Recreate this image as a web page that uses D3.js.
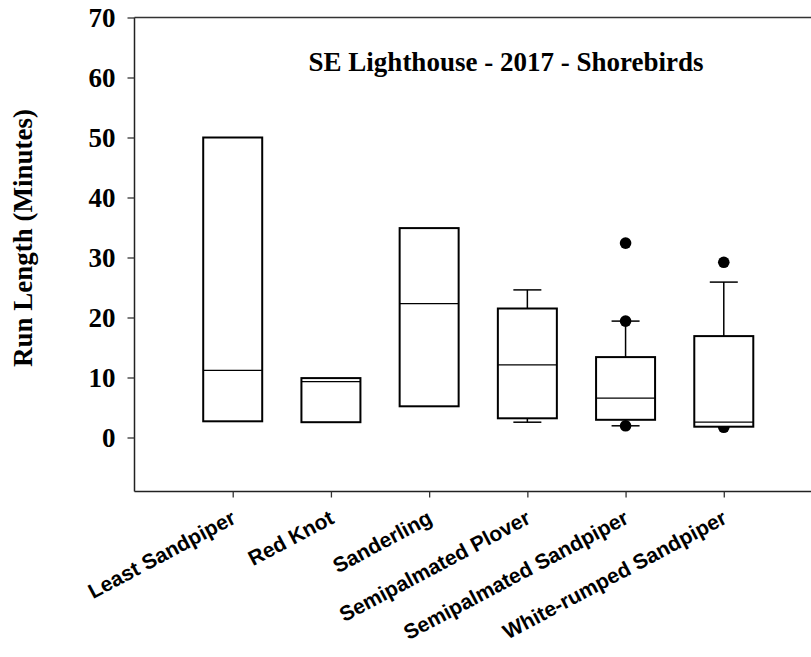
<!DOCTYPE html>
<html>
<head>
<title>SE Lighthouse - 2017 - Shorebirds</title>
<style>
  body { margin: 0; background: #fff; }
  svg { display: block; }
</style>
<script src="https://cdn.jsdelivr.net/npm/d3@7"></script>
</head>
<body>
<svg width="811" height="657"></svg>
<script>
// values (minutes)
var species = ["Least Sandpiper", "Red Knot", "Sanderling", "Semipalmated Plover",
               "Semipalmated Sandpiper", "White-rumped Sandpiper"];
var q1     = [2.7, 2.55, 5.2, 3.2, 2.95, 1.8];
var median = [11.2, 9.3, 22.3, 12.1, 6.55, 2.55];
var q3     = [50, 9.9, 34.9, 21.5, 13.4, 16.9];
var whiskLow  = [null, null, null, 2.55, 1.95, null];
var whiskHigh = [null, null, null, 24.6, 19.4, 25.9];
var outliers  = [[], [], [], [], [32.4, 19.4, 1.95], [29.2, 1.7]];
var yTicks = [0, 10, 20, 30, 40, 50, 60, 70];

var svg = d3.select("svg");
var plotL = 134.5, plotR = 822, plotT = 17.5, plotB = 491.5;

var x = d3.scalePoint().domain(species).range([plotL, plotR]).padding(1);
var y = d3.scaleLinear().domain([-9, 70]).range([plotB, plotT]);

var boxW = 59, capW = 28;
var serif = "'Liberation Serif', 'Times New Roman', serif";

// frame
svg.append("line").attr("x1", plotL).attr("x2", 811).attr("y1", plotT).attr("y2", plotT)
   .attr("stroke", "#333").attr("stroke-width", 1.5);

var ya = svg.append("g").attr("transform", "translate(" + plotL + ",0)")
   .call(d3.axisLeft(y).tickValues(yTicks).tickSize(7).tickPadding(12).tickSizeOuter(0));
ya.select(".domain").attr("stroke", "#222").attr("stroke-width", 1.5)
   .attr("d", "M0," + plotT + "V" + plotB);
ya.selectAll(".tick line").attr("stroke", "#333").attr("stroke-width", 1.3);
ya.selectAll(".tick text").attr("fill", "#000")
   .style("font-family", serif).style("font-weight", "bold").style("font-size", "27px");

var xa = svg.append("g").attr("transform", "translate(0," + plotB + ")")
   .call(d3.axisBottom(x).tickSize(6).tickSizeOuter(0));
xa.select(".domain").attr("stroke", "#222").attr("stroke-width", 1.5)
   .attr("d", "M" + plotL + ",0H811");
xa.selectAll(".tick line").attr("stroke", "#333").attr("stroke-width", 1.3);
xa.selectAll(".tick text").attr("fill", "#000")
   .attr("text-anchor", "end")
   .attr("transform", "translate(4,31) rotate(-28)")
   .attr("y", 0).attr("dy", 0)
   .style("font-family", "'Liberation Sans', Arial, sans-serif")
   .style("font-weight", "bold").style("font-size", "21px");

// title and axis label
svg.append("text").attr("x", 506).attr("y", 71).attr("text-anchor", "middle")
   .style("font-family", serif).style("font-weight", "bold").style("font-size", "27px")
   .text("SE Lighthouse - 2017 - Shorebirds");

svg.append("text").attr("transform", "translate(32,238) rotate(-90)")
   .attr("text-anchor", "middle")
   .style("font-family", serif).style("font-weight", "bold").style("font-size", "27px")
   .text("Run Length (Minutes)");

// boxes
var rows = species.map(function(s, i) {
  return {name: s, q1: q1[i], med: median[i], q3: q3[i],
          lo: whiskLow[i], hi: whiskHigh[i], out: outliers[i]};
});

var g = svg.append("g");

rows.forEach(function(d) {
  var cx = x(d.name);
  if (d.hi != null) {
    g.append("line").attr("x1", cx).attr("x2", cx).attr("y1", y(d.q3)).attr("y2", y(d.hi))
     .attr("stroke", "#000").attr("stroke-width", 1.5);
    g.append("line").attr("x1", cx - capW / 2).attr("x2", cx + capW / 2)
     .attr("y1", y(d.hi)).attr("y2", y(d.hi)).attr("stroke", "#000").attr("stroke-width", 1.5);
  }
  if (d.lo != null) {
    g.append("line").attr("x1", cx).attr("x2", cx).attr("y1", y(d.q1)).attr("y2", y(d.lo))
     .attr("stroke", "#000").attr("stroke-width", 1.5);
    g.append("line").attr("x1", cx - capW / 2).attr("x2", cx + capW / 2)
     .attr("y1", y(d.lo)).attr("y2", y(d.lo)).attr("stroke", "#000").attr("stroke-width", 1.5);
  }
  d.out.forEach(function(v) {
    g.append("circle").attr("cx", cx).attr("cy", y(v)).attr("r", 5.8).attr("fill", "#000");
  });
  g.append("rect").attr("x", cx - boxW / 2).attr("width", boxW)
   .attr("y", y(d.q3)).attr("height", y(d.q1) - y(d.q3))
   .attr("fill", "#fff").attr("stroke", "#000").attr("stroke-width", 2);
  g.append("line").attr("x1", cx - boxW / 2).attr("x2", cx + boxW / 2)
   .attr("y1", y(d.med)).attr("y2", y(d.med)).attr("stroke", "#000").attr("stroke-width", 1.3);
});
</script>
</body>
</html>
